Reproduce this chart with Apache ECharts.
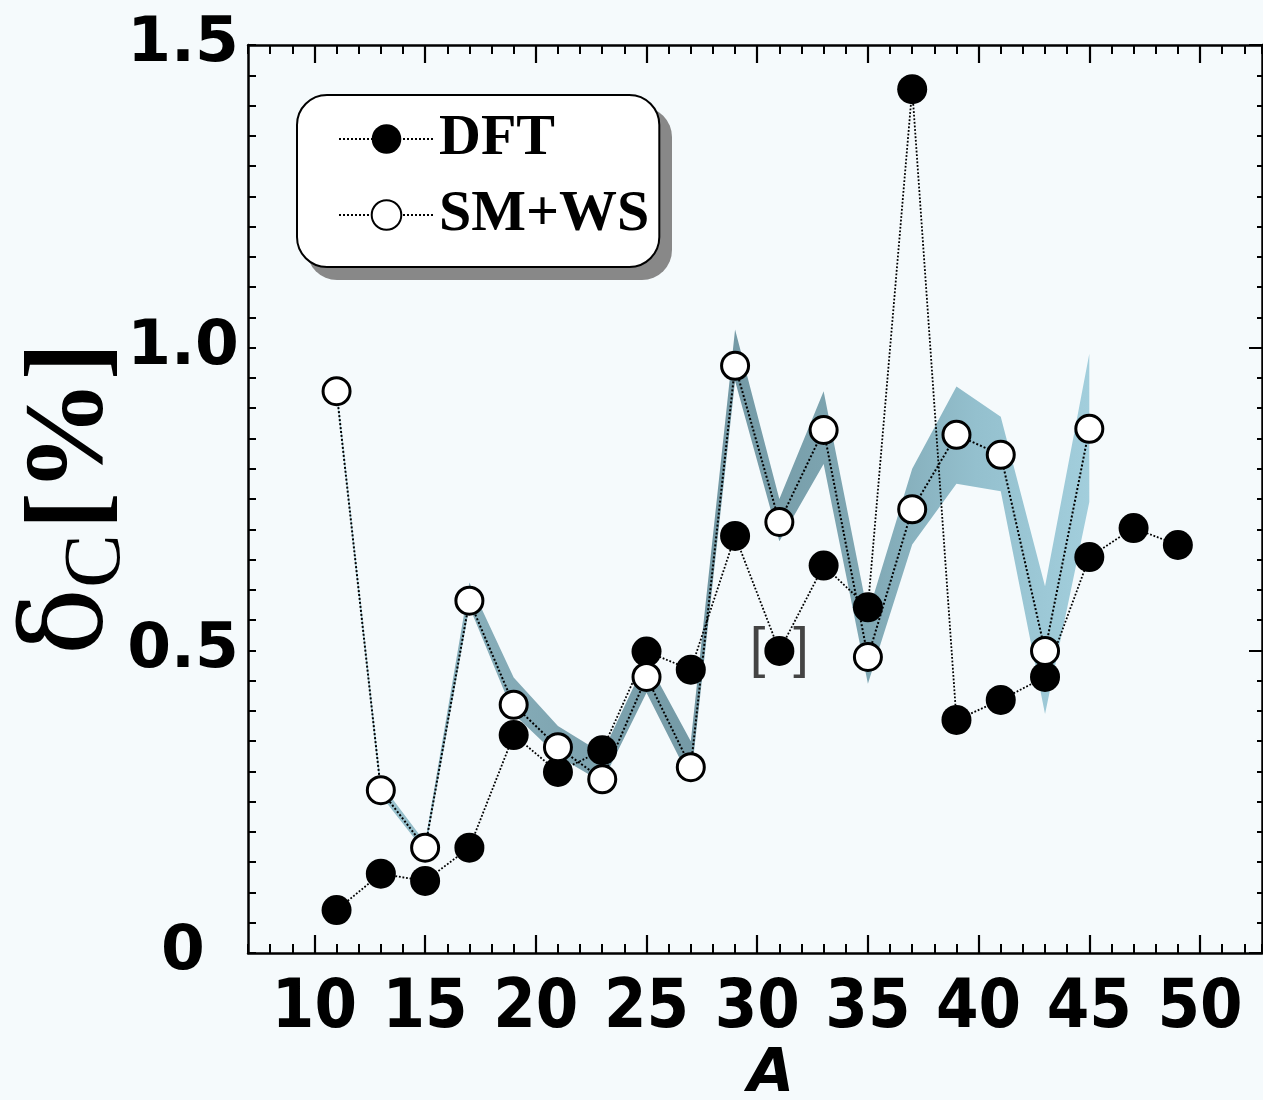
<!DOCTYPE html>
<html>
<head>
<meta charset="utf-8">
<script src="https://cdn.jsdelivr.net/npm/echarts@6/dist/echarts.min.js"></script>
<style>
html,body{margin:0;padding:0;background:#f5fafc;overflow:hidden;}
#chart{position:absolute;left:0;top:0;width:1263px;height:1100px;}
</style>
</head>
<body>
<div id="chart"></div>
<script>
// ---------------- data ----------------
const dftA = [11,13,15,17,19,21,23,25,27,29,31,33,35,37,39,41,43,45,47,49];
const dftValues = [0.071,0.131,0.119,0.174,0.360,0.299,0.335,0.498,0.468,0.689,0.499,0.640,0.571,1.427,0.385,0.418,0.456,0.654,0.702,0.674];
const smwsA = [11,13,15,17,19,21,23,25,27,29,31,33,35,37,39,41,43,45];
const smwsValues = [0.928,0.269,0.174,0.582,0.410,0.340,0.287,0.456,0.307,0.970,0.712,0.864,0.489,0.733,0.856,0.823,0.499,0.866];
const bandUpper = [0.937,0.280,0.183,0.612,0.455,0.375,0.330,0.485,0.350,1.030,0.750,0.928,0.560,0.800,0.936,0.886,0.606,0.990];
const bandLower = [0.922,0.260,0.167,0.572,0.395,0.325,0.282,0.430,0.285,0.945,0.680,0.808,0.445,0.675,0.775,0.763,0.395,0.745];
const bracketedA = 31;
const xTickLabels = ['10','15','20','25','30','35','40','45','50'];
const yTickLabels = ['0','0.5','1.0','1.5'];

// ---------------- layout ----------------
const W = 1263, H = 1100;
const gridLeft = 248, gridRight = 1, gridTop = 45, gridBottom = 147;
const xMin = 7, xMax = 52.8;
const plotW = W - gridLeft - gridRight;
const pxPerA = plotW / (xMax - xMin);
const majorFrom = 10, majorTo = 50;
const grid2Left = gridLeft + (majorFrom - xMin) * pxPerA;
const grid2Width = (majorTo - majorFrom) * pxPerA;

const chart = echarts.init(document.getElementById('chart'), null, {width:W, height:H});

const axisLineStyle = {color:'#000', width:2.5};
function minorXAxis(position, withLabels) {
  return {
    type:'value', gridIndex:0, position:position, min:xMin, max:xMax, interval:1,
    axisLine:{show:true, onZero:false, lineStyle:axisLineStyle},
    axisTick:{show:true, inside:true, length:9, lineStyle:{color:'#000', width:2}},
    splitLine:{show:false},
    axisLabel: withLabels ? {
      show:true, margin:22,
      fontFamily:"'DejaVu Sans Condensed','DejaVu Sans',sans-serif",
      fontWeight:'bold', fontSize:68, color:'#000',
      formatter: v => xTickLabels.includes(String(v)) ? String(v) : ''
    } : {show:false}
  };
}
function majorXAxis(position) {
  return {
    type:'value', gridIndex:1, position:position, min:majorFrom, max:majorTo, interval:5,
    axisLine:{show:false},
    axisTick:{show:true, inside:true, length:18, lineStyle:{color:'#000', width:2.2}},
    splitLine:{show:false}, axisLabel:{show:false}
  };
}

const xMain = minorXAxis('bottom', true);
xMain.name = 'A';
xMain.nameLocation = 'middle';
xMain.nameGap = 92;
xMain.nameMoveOverlap = false;
xMain.nameTextStyle = {fontFamily:"'DejaVu Sans',sans-serif", fontWeight:'bold', fontStyle:'italic', fontSize:60, color:'#000', padding:[0,0,0,32]};

const dftData = dftA.map((a,i) => a === bracketedA ? {
  value:[a, dftValues[i]],
  label:{show:true, position:'inside', formatter:'[\u2002]', fontFamily:"'Liberation Sans',sans-serif", fontWeight:'normal', fontSize:56, color:'#444'}
} : [a, dftValues[i]]);
const smwsData = smwsA.map((a,i) => [a, smwsValues[i]]);
const bandData = smwsA.map((a,i) => [a, bandLower[i], bandUpper[i]]);

const bandFill = new echarts.graphic.LinearGradient(0,0,1,0,[
  {offset:0, color:'#a8d2de'},
  {offset:0.17, color:'#88afbb'},
  {offset:0.5, color:'#7398a4'},
  {offset:0.7, color:'#7fa7b3'},
  {offset:0.85, color:'#94c0ce'},
  {offset:1, color:'#a2cedc'}
]);

const option = {
  backgroundColor:'#f5fafc',
  animation:false,
  grid:[
    {left:gridLeft, right:gridRight, top:gridTop, bottom:gridBottom, containLabel:false, outerBoundsMode:'none'},
    {left:grid2Left, width:grid2Width, top:gridTop, bottom:gridBottom, containLabel:false, outerBoundsMode:'none'}
  ],
  xAxis:[ xMain, minorXAxis('top', false), majorXAxis('bottom'), majorXAxis('top') ],
  yAxis:[
    {
      type:'value', gridIndex:0, position:'left', min:0, max:1.5, interval:0.5,
      axisLine:{show:true, onZero:false, lineStyle:axisLineStyle},
      axisTick:{show:true, inside:true, length:8, lineStyle:{color:'#000', width:2}},
      minorTick:{show:true, splitNumber:10, length:8, lineStyle:{color:'#000', width:2}},
      splitLine:{show:false}, minorSplitLine:{show:false},
      axisLabel:{
        show:true, margin:65, align:'center',
        fontFamily:"'DejaVu Sans',sans-serif", fontWeight:'bold', fontSize:63, color:'#000',
        formatter: v => yTickLabels[Math.round(v/0.5)]
      },
      name:'{d|δ}{c|C}{s| }{p|[%]}',
      nameLocation:'middle', nameRotate:90, nameGap:110, nameMoveOverlap:false,
      nameTextStyle:{
        color:'#000',
        rich:{
          d:{fontFamily:"'DejaVu Serif',serif", fontSize:112, color:'#000'},
          c:{fontFamily:"'Liberation Serif',serif", fontSize:80, color:'#000', padding:[50,0,0,0]},
          s:{fontFamily:"'Liberation Serif',serif", fontSize:20},
          p:{fontFamily:"'Liberation Serif',serif", fontWeight:'bold', fontSize:112, color:'#000'}
        }
      }
    },
    {
      type:'value', gridIndex:0, position:'right', min:0, max:1.5, interval:0.5,
      axisLine:{show:true, onZero:false, lineStyle:axisLineStyle},
      axisTick:{show:true, inside:true, length:13, lineStyle:{color:'#000', width:2}},
      minorTick:{show:true, splitNumber:10, length:5, lineStyle:{color:'#000', width:2}},
      splitLine:{show:false}, axisLabel:{show:false}
    },
    {type:'value', gridIndex:1, min:0, max:1.5, show:false}
  ],
  graphic:[
    { type:'rect', left:307, top:107, z:-1, silent:true,
      shape:{width:365, height:173, r:30},
      style:{fill:'#888888'} }
  ],
  legend:{
    left:297, top:95, orient:'vertical', z:5,
    data:['DFT','SM+WS'],
    selectedMode:false,
    itemWidth:95, itemHeight:37, itemGap:16,
    padding:[14,10,22,41],
    backgroundColor:'#ffffff', borderColor:'#000', borderWidth:2, borderRadius:30,
    textStyle:{fontFamily:"'Liberation Serif',serif", fontWeight:'bold', fontSize:58, color:'#000', lineHeight:60}
  },
  series:[
    {
      name:'band', type:'custom', data:bandData, z:1, silent:true,
      encode:{x:0, y:[1,2]},
      renderItem:(params, api) => {
        if (params.dataIndex !== 0) return null;
        const top = smwsA.map((a,i) => api.coord([a, bandUpper[i]]));
        const bottom = smwsA.map((a,i) => api.coord([a, bandLower[i]])).reverse();
        return {type:'polygon', shape:{points:top.concat(bottom)}, style:{fill:bandFill}};
      }
    },
    {
      name:'DFT', type:'line', data:dftData, z:3,
      symbol:'circle', symbolSize:30,
      itemStyle:{color:'#000'},
      lineStyle:{color:'#000', width:1.8, type:'dotted'}
    },
    {
      name:'SM+WS', type:'line', data:smwsData, z:4,
      symbol:'circle', symbolSize:27,
      itemStyle:{color:'#fff', borderColor:'#000', borderWidth:3},
      lineStyle:{color:'#000', width:2, type:'dotted'}
    }
  ]
};
chart.setOption(option);
</script>
</body>
</html>
